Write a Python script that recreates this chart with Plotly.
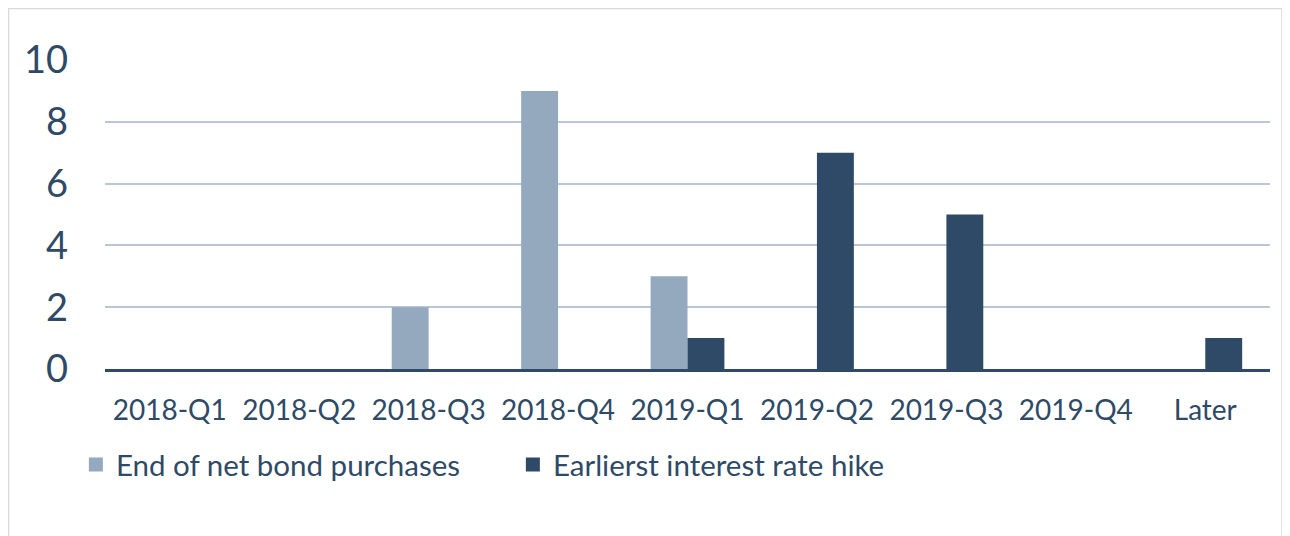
import plotly.graph_objects as go

categories = ["2018-Q1", "2018-Q2", "2018-Q3", "2018-Q4", "2019-Q1", "2019-Q2", "2019-Q3", "2019-Q4", "Later"]
bond_purchases = [0, 0, 2, 9, 3, 0, 0, 0, 0]
rate_hike = [0, 0, 0, 0, 1, 7, 5, 0, 1]
series_names = ["End of net bond purchases", "Earlierst interest rate hike"]
y_ticks = [0, 2, 4, 6, 8, 10]

LIGHT = "#94a9bd"
DARK = "#2e4a66"
TEXT = "#2e4a66"
GRID = "#b7c7d7"
FONT = "Lato, Carlito, 'Open Sans', sans-serif"

fig = go.Figure()
for vals, name, col in [(bond_purchases, series_names[0], LIGHT), (rate_hike, series_names[1], DARK)]:
    fig.add_trace(go.Bar(x=categories, y=vals, name=name, legendgroup=name, showlegend=False,
                         marker=dict(color=col, line=dict(width=0))))
for name, col in [(series_names[0], LIGHT), (series_names[1], DARK)]:
    fig.add_trace(go.Scatter(x=[None], y=[None], mode="markers", name=name, legendgroup=name,
                             marker=dict(symbol="square", size=14, color=col, line=dict(width=0))))

# plot area: page x 105..1270, y 60..369 (page has 8px body margin)
L, T = 97, 52
W_PLOT = 1165
H_PLOT = 309
fig.update_layout(
    width=1290, height=536,
    margin=dict(l=L, r=1290 - L - W_PLOT, t=T, b=536 - T - H_PLOT),
    paper_bgcolor="white", plot_bgcolor="white",
    barmode="group", bargap=0.43, bargroupgap=0,
    font=dict(family=FONT, color=TEXT),
    showlegend=True,
    legend=dict(orientation="h", x=-0.025, xanchor="left", y=-0.31, yanchor="middle",
                font=dict(size=29.5, color=TEXT), itemwidth=30, traceorder="normal",
                entrywidth=392, entrywidthmode="pixels", itemsizing="trace"),
    shapes=[dict(type="rect", xref="paper", yref="paper",
                 x0=(0.5 - L) / W_PLOT, x1=(1274 - L) / W_PLOT,
                 y0=-0.7, y1=(T + H_PLOT - 0.5) / H_PLOT,
                 line=dict(color="#d9d9d9", width=1.5), layer="below")],
)
fig.update_xaxes(showgrid=False, showline=True, linecolor=DARK, linewidth=3,
                 ticks="", tickfont=dict(size=28, color=TEXT), ticklabelstandoff=14)
fig.update_yaxes(range=[0, 10], tickvals=y_ticks, showgrid=True, gridcolor=GRID, gridwidth=1.5,
                 zeroline=False, showline=False, ticks="",
                 tickfont=dict(size=38, color=TEXT), ticklabelstandoff=36)

fig.write_html("out.html")
